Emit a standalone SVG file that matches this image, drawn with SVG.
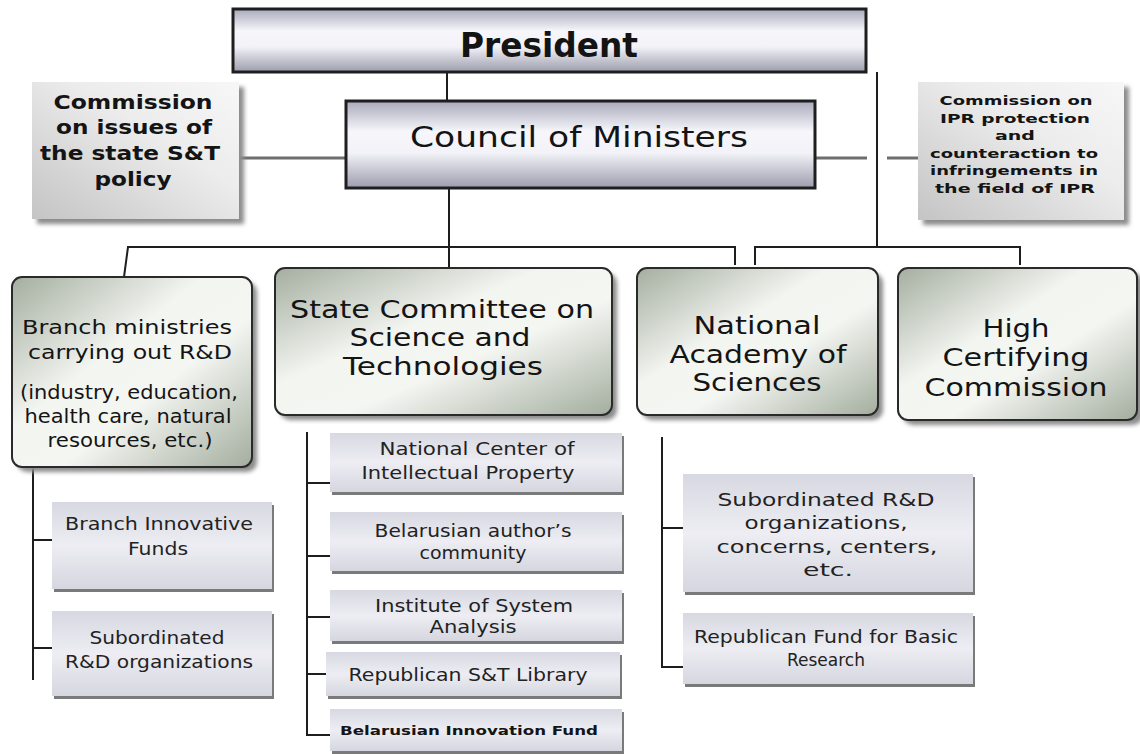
<svg xmlns="http://www.w3.org/2000/svg" width="1140" height="754" viewBox="0 0 1140 754">
  <defs>
    <linearGradient id="barFill" x1="0" y1="0" x2="0" y2="1">
      <stop offset="0" stop-color="#a9a9bb"/>
      <stop offset="0.35" stop-color="#f6f6fb"/>
      <stop offset="0.6" stop-color="#f2f2f8"/>
      <stop offset="1" stop-color="#9c9cad"/>
    </linearGradient>
    <linearGradient id="commFill" x1="0" y1="1" x2="1" y2="0">
      <stop offset="0" stop-color="#c4c4c4"/>
      <stop offset="0.6" stop-color="#ececec"/>
      <stop offset="1" stop-color="#f7f7f7"/>
    </linearGradient>
    <linearGradient id="mainFill" x1="0" y1="0" x2="1" y2="1">
      <stop offset="0" stop-color="#a4ae9f"/>
      <stop offset="0.4" stop-color="#f3f5f1"/>
      <stop offset="0.6" stop-color="#f4f6f2"/>
      <stop offset="1" stop-color="#a3ad9e"/>
    </linearGradient>
    <linearGradient id="subFill" x1="0" y1="0" x2="0" y2="1">
      <stop offset="0" stop-color="#d8d8e2"/>
      <stop offset="0.5" stop-color="#ededf3"/>
      <stop offset="1" stop-color="#d6d6e0"/>
    </linearGradient>
    <filter id="soft" x="-10%" y="-10%" width="130%" height="130%">
      <feGaussianBlur stdDeviation="2"/>
    </filter>
  </defs>
  <style>
    text { font-family: "DejaVu Sans", Verdana, sans-serif; fill: #141414; text-anchor: middle; }
    .bar { fill: url(#barFill); stroke: #1e1e1e; stroke-width: 3; }
    .comm { fill: url(#commFill); }
    .main { fill: url(#mainFill); stroke: #2a2a2a; stroke-width: 2; }
    .sub { fill: url(#subFill); }
    .shadow { fill: #8c8c8c; filter: url(#soft); }
    .subshadow { fill: #7a7a7a; }
    .wire { fill: none; stroke: #1e1e1e; stroke-width: 2; }
    .grey { fill: none; stroke: #6e6e6e; stroke-width: 3; }
    .t-pres { font-size: 33px; font-weight: bold; }
    .t-council { font-size: 28px; }
    .t-commL { font-size: 19px; font-weight: bold; }
    .t-commR { font-size: 13px; font-weight: bold; }
    .t-main { font-size: 25px; }
    .t-branch { font-size: 20px; }
    .t-sub { font-size: 17px; fill: #222; }
    .t-fund { font-size: 12.5px; font-weight: bold; }
  </style>

  <rect width="1140" height="754" fill="#ffffff"/>

  <!-- connectors -->
  <g id="connectors">
    <line class="wire" x1="447" y1="72" x2="447" y2="100"/>
    <line class="wire" x1="877" y1="72" x2="877" y2="248"/>
    <line class="grey" x1="240" y1="158" x2="345" y2="158"/>
    <line class="grey" x1="815" y1="158" x2="867" y2="158"/>
    <line class="grey" x1="887" y1="158" x2="918" y2="158"/>
    <line class="wire" x1="449" y1="188" x2="449" y2="268"/>
    <polyline class="wire" points="124,277 128,247 735,247 735,265"/>
    <polyline class="wire" points="755,265 755,247 1020,247 1020,265"/>
    <!-- branch ministries column -->
    <line class="wire" x1="33" y1="467" x2="33" y2="680"/>
    <line class="wire" x1="33" y1="540" x2="52" y2="540"/>
    <line class="wire" x1="33" y1="648" x2="52" y2="648"/>
    <!-- state committee column -->
    <polyline class="wire" points="307,432 307,735 330,735"/>
    <line class="wire" x1="307" y1="483" x2="330" y2="483"/>
    <line class="wire" x1="307" y1="556" x2="330" y2="556"/>
    <line class="wire" x1="307" y1="617" x2="330" y2="617"/>
    <line class="wire" x1="307" y1="674" x2="326" y2="674"/>
    <!-- academy column -->
    <polyline class="wire" points="662,437 662,667 683,667"/>
    <line class="wire" x1="662" y1="528" x2="683" y2="528"/>
  </g>

  <g id="president">
    <rect class="bar" x="233" y="9" width="633" height="63"/>
    <text class="t-pres" x="549" y="57" textLength="178" lengthAdjust="spacingAndGlyphs">President</text>
  </g>

  <g id="council">
    <rect class="bar" x="346" y="101" width="469" height="87"/>
    <text class="t-council" x="579" y="147" textLength="338" lengthAdjust="spacingAndGlyphs">Council of Ministers</text>
  </g>

  <g id="commission-st-policy">
    <rect class="shadow" x="37" y="87" width="207" height="137"/>
    <rect class="comm" x="32" y="82" width="207" height="137"/>
    <text class="t-commL" x="133" y="109" textLength="159" lengthAdjust="spacingAndGlyphs">Commission</text>
    <text class="t-commL" x="134" y="134" textLength="156" lengthAdjust="spacingAndGlyphs">on issues of</text>
    <text class="t-commL" x="130" y="160" textLength="180" lengthAdjust="spacingAndGlyphs">the state S&amp;T</text>
    <text class="t-commL" x="133" y="186" textLength="77" lengthAdjust="spacingAndGlyphs">policy</text>
  </g>

  <g id="commission-ipr">
    <rect class="shadow" x="923" y="87" width="206" height="138"/>
    <rect class="comm" x="918" y="82" width="206" height="138"/>
    <text class="t-commR" x="1016" y="105" textLength="153" lengthAdjust="spacingAndGlyphs">Commission on</text>
    <text class="t-commR" x="1015" y="123" textLength="150" lengthAdjust="spacingAndGlyphs">IPR protection</text>
    <text class="t-commR" x="1015" y="140" textLength="40" lengthAdjust="spacingAndGlyphs">and</text>
    <text class="t-commR" x="1014" y="158" textLength="168" lengthAdjust="spacingAndGlyphs">counteraction to</text>
    <text class="t-commR" x="1014" y="175" textLength="168" lengthAdjust="spacingAndGlyphs">infringements in</text>
    <text class="t-commR" x="1015" y="193" textLength="160" lengthAdjust="spacingAndGlyphs">the field of IPR</text>
  </g>

  <g id="branch-ministries">
    <rect class="shadow" x="17" y="282" width="240" height="190" rx="10"/>
    <rect class="main" x="12" y="277" width="240" height="190" rx="10"/>
    <text class="t-branch" x="127" y="334" textLength="210" lengthAdjust="spacingAndGlyphs">Branch ministries</text>
    <text class="t-branch" x="130" y="359" textLength="204" lengthAdjust="spacingAndGlyphs">carrying out R&amp;D</text>
    <text class="t-branch" x="129" y="399" textLength="218" lengthAdjust="spacingAndGlyphs">(industry, education,</text>
    <text class="t-branch" x="128" y="423" textLength="207" lengthAdjust="spacingAndGlyphs">health care, natural</text>
    <text class="t-branch" x="130" y="447" textLength="165" lengthAdjust="spacingAndGlyphs">resources, etc.)</text>
  </g>

  <g id="state-committee">
    <rect class="shadow" x="280" y="273" width="337" height="147" rx="10"/>
    <rect class="main" x="275" y="268" width="337" height="147" rx="10"/>
    <text class="t-main" x="442" y="318" textLength="304" lengthAdjust="spacingAndGlyphs">State Committee on</text>
    <text class="t-main" x="440" y="346" textLength="181" lengthAdjust="spacingAndGlyphs">Science and</text>
    <text class="t-main" x="443" y="375" textLength="200" lengthAdjust="spacingAndGlyphs">Technologies</text>
  </g>

  <g id="national-academy">
    <rect class="shadow" x="642" y="273" width="241" height="147" rx="10"/>
    <rect class="main" x="637" y="268" width="241" height="147" rx="10"/>
    <text class="t-main" x="757" y="334" textLength="127" lengthAdjust="spacingAndGlyphs">National</text>
    <text class="t-main" x="758" y="363" textLength="177" lengthAdjust="spacingAndGlyphs">Academy of</text>
    <text class="t-main" x="757" y="391" textLength="129" lengthAdjust="spacingAndGlyphs">Sciences</text>
  </g>

  <g id="high-certifying">
    <rect class="shadow" x="903" y="273" width="240" height="152" rx="10"/>
    <rect class="main" x="898" y="268" width="239" height="152" rx="10"/>
    <text class="t-main" x="1016" y="337" textLength="67" lengthAdjust="spacingAndGlyphs">High</text>
    <text class="t-main" x="1016" y="366" textLength="147" lengthAdjust="spacingAndGlyphs">Certifying</text>
    <text class="t-main" x="1016" y="396" textLength="183" lengthAdjust="spacingAndGlyphs">Commission</text>
  </g>

  <g id="branch-innovative-funds">
    <rect class="subshadow" x="54" y="505" width="220" height="87"/>
    <rect class="sub" x="52" y="502" width="220" height="87"/>
    <text class="t-sub" x="159" y="530" textLength="188" lengthAdjust="spacingAndGlyphs">Branch Innovative</text>
    <text class="t-sub" x="158" y="555" textLength="60" lengthAdjust="spacingAndGlyphs">Funds</text>
  </g>

  <g id="branch-subordinated">
    <rect class="subshadow" x="54" y="614" width="220" height="85"/>
    <rect class="sub" x="52" y="611" width="220" height="85"/>
    <text class="t-sub" x="157" y="644" textLength="135" lengthAdjust="spacingAndGlyphs">Subordinated</text>
    <text class="t-sub" x="159" y="668" textLength="188" lengthAdjust="spacingAndGlyphs">R&amp;D organizations</text>
  </g>

  <g id="ncip">
    <rect class="subshadow" x="332" y="436" width="292" height="59"/>
    <rect class="sub" x="330" y="433" width="292" height="59"/>
    <text class="t-sub" x="477" y="455" textLength="195" lengthAdjust="spacingAndGlyphs">National Center of</text>
    <text class="t-sub" x="468" y="479" textLength="213" lengthAdjust="spacingAndGlyphs">Intellectual Property</text>
  </g>

  <g id="authors-community">
    <rect class="subshadow" x="332" y="515" width="292" height="59"/>
    <rect class="sub" x="330" y="512" width="292" height="59"/>
    <text class="t-sub" x="473" y="537" textLength="197" lengthAdjust="spacingAndGlyphs">Belarusian author’s</text>
    <text class="t-sub" x="473" y="559" textLength="107" lengthAdjust="spacingAndGlyphs">community</text>
  </g>

  <g id="system-analysis">
    <rect class="subshadow" x="332" y="593" width="292" height="51"/>
    <rect class="sub" x="330" y="590" width="292" height="51"/>
    <text class="t-sub" x="474" y="612" textLength="198" lengthAdjust="spacingAndGlyphs">Institute of System</text>
    <text class="t-sub" x="473" y="633" textLength="87" lengthAdjust="spacingAndGlyphs">Analysis</text>
  </g>

  <g id="st-library">
    <rect class="subshadow" x="328" y="655" width="294" height="44"/>
    <rect class="sub" x="326" y="652" width="294" height="44"/>
    <text class="t-sub" x="468" y="681" textLength="239" lengthAdjust="spacingAndGlyphs">Republican S&amp;T Library</text>
  </g>

  <g id="innovation-fund">
    <rect class="subshadow" x="332" y="712" width="292" height="42"/>
    <rect class="sub" x="330" y="709" width="292" height="42"/>
    <text class="t-fund" x="469" y="735" textLength="258" lengthAdjust="spacingAndGlyphs">Belarusian Innovation Fund</text>
  </g>

  <g id="academy-subordinated">
    <rect class="subshadow" x="685" y="477" width="290" height="118"/>
    <rect class="sub" x="683" y="474" width="290" height="118"/>
    <text class="t-sub" x="826" y="506" textLength="217" lengthAdjust="spacingAndGlyphs">Subordinated R&amp;D</text>
    <text class="t-sub" x="826" y="529" textLength="163" lengthAdjust="spacingAndGlyphs">organizations,</text>
    <text class="t-sub" x="827" y="553" textLength="221" lengthAdjust="spacingAndGlyphs">concerns, centers,</text>
    <text class="t-sub" x="828" y="576" textLength="50" lengthAdjust="spacingAndGlyphs">etc.</text>
  </g>

  <g id="basic-research-fund">
    <rect class="subshadow" x="685" y="616" width="290" height="71"/>
    <rect class="sub" x="683" y="613" width="290" height="71"/>
    <text class="t-sub" x="826" y="643" textLength="264" lengthAdjust="spacingAndGlyphs">Republican Fund for Basic</text>
    <text class="t-sub" x="826" y="666">Research</text>
  </g>
</svg>
